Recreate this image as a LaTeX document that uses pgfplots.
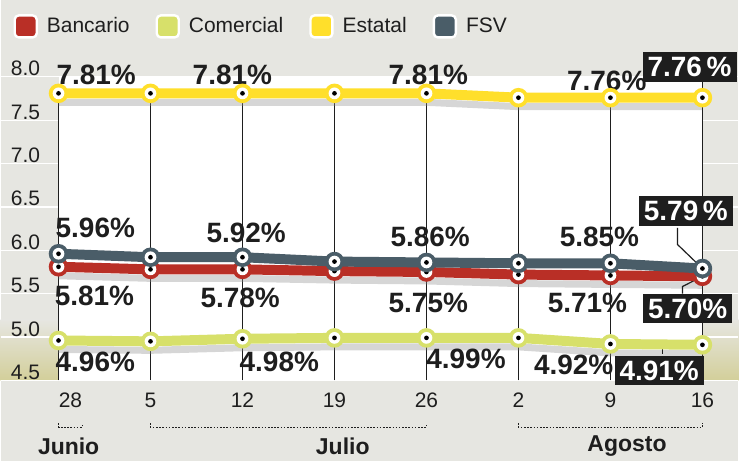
\documentclass[border=0pt]{standalone}
\usepackage{pgfplots}
\usepackage{pgfplotstable}
\pgfplotsset{compat=1.18}
\usepackage{fontspec}
\setmainfont{Liberation Sans}
\definecolor{bggray}{HTML}{E6E6E1}
\definecolor{khaki}{HTML}{D3CF9A}
\definecolor{estatal}{HTML}{FFDF2B}
\definecolor{comercial}{HTML}{D7E06A}
\definecolor{bancario}{HTML}{B92F26}
\definecolor{fsv}{HTML}{4A5D68}
\definecolor{ink}{HTML}{1E1E1E}
\tikzset{
  lab/.style={font=\fontsize{14}{16}\selectfont\bfseries, inner sep=0pt, text=ink},
  box/.style={fill=ink, text=white, font=\fontsize{14}{16}\selectfont\bfseries, inner xsep=2.5pt, inner ysep=2.5pt},
  month/.style={font=\fontsize{11.5}{13}\selectfont\bfseries, text=ink},
  brk/.style={ink, dash pattern=on 0.8pt off 0.8pt, line width=0.7pt},
}
\pgfdeclareplotmark{ring}{%
  \pgfpathcircle{\pgfpointorigin}{\pgfplotmarksize}\pgfusepathqfill
  \begin{pgfscope}%
  \pgfsetfillcolor{white}%
  \pgfpathcircle{\pgfpointorigin}{0.6\pgfplotmarksize}\pgfusepathqfill
  \pgfsetfillcolor{black}%
  \pgfpathcircle{\pgfpointorigin}{0.24\pgfplotmarksize}\pgfusepathqfill
  \end{pgfscope}}
\pgfplotstableread{
x est fsv ban com
0 7.81 5.96 5.81 4.96
1 7.81 5.92 5.78 4.95
2 7.81 5.92 5.78 4.98
3 7.81 5.87 5.76 4.99
4 7.81 5.86 5.75 4.99
5 7.76 5.85 5.72 4.99
6 7.76 5.85 5.71 4.92
7 7.76 5.79 5.70 4.91
}\data
\begin{document}
\begin{tikzpicture}
\begin{axis}[
  set layers=standard,
  scale only axis, width=369.5pt, height=231pt,
  xmin=-0.6295, xmax=7.391, ymin=3.5675, ymax=8.8864,
  clip=false,
  axis line style={draw=none}, tick style={draw=none},
  axis background/.style={fill=bggray},
  xtick={0,...,7}, xticklabels={\hspace*{12pt}28,5,12,19,26,2,9,16},
  xticklabel style={anchor=base, yshift=27pt, font=\fontsize{10.5}{12}\selectfont, text=ink},
  ytick={4.5,5,5.5,6,6.5,7,7.5,8},
  yticklabels={4.5,5.0,5.5,6.0,6.5,7.0,7.5,8.0},
  yticklabel style={anchor=base west, xshift=5pt, yshift=0.5pt, inner sep=0pt, font=\fontsize{10.5}{12}\selectfont, text=ink},
  legend columns=4,
  legend style={at={(rel axis cs:0.017,0.97)}, anchor=north west, draw=none, fill=none, inner sep=0pt,
    font=\fontsize{10.5}{12}\selectfont, text=ink,
    nodes={inner sep=0pt},
    /tikz/every even column/.append style={column sep=13pt},
    /tikz/every odd column/.append style={column sep=4.5pt}},
  legend image code/.code={\draw[#1, draw=white, line width=1.2pt, rounded corners=2pt, fill] (0pt,-5.5pt) rectangle (11pt,5.5pt);},
]
\addlegendimage{color=bancario}\addlegendentry{Bancario}
\addlegendimage{color=comercial}\addlegendentry{Comercial}
\addlegendimage{color=estatal}\addlegendentry{Estatal}
\addlegendimage{color=fsv}\addlegendentry{FSV}
% background columns
\begin{pgfonlayer}{axis grid}
\shade[top color=bggray, bottom color=khaki] (axis cs:-0.6295,5.2) rectangle (axis cs:0,4.5);
\shade[top color=bggray, bottom color=khaki] (axis cs:7,5.2) rectangle (axis cs:7.391,4.5);
\fill[white] (axis cs:0,4.5) rectangle (axis cs:7,8.0);
\pgfplotsinvokeforeach{4.5,5.0,5.5,6.0,6.5,7.0,7.5,8.0}{\draw[white, line width=0.6pt] (axis cs:-0.6295,#1) -- (axis cs:7.391,#1);}
\end{pgfonlayer}
\pgfplotsinvokeforeach{0,...,7}{\draw[ink, line width=0.7pt] (axis cs:#1,4.5) -- (axis cs:#1,7.78);}
% brackets
\draw[brk] (axis cs:0,4.005) -- (axis cs:0,3.959) -- (axis cs:0.26,3.959) -- (axis cs:0.26,4.005);
\draw[brk] (axis cs:1,4.005) -- (axis cs:1,3.959) -- (axis cs:4,3.959) -- (axis cs:4,4.005);
\draw[brk] (axis cs:5,4.005) -- (axis cs:5,3.959) -- (axis cs:7,3.959) -- (axis cs:7,4.005);
\node[month] at (axis cs:0.11,3.745) {Junio};
\node[month] at (axis cs:3.09,3.745) {Julio};
\node[month] at (axis cs:6.18,3.745) {Agosto};
% shadows
\addplot[forget plot, color=black!45, opacity=0.35, line width=3.5pt, yshift=-4.5pt] table[x=x,y=est]{\data};
\addplot[forget plot, color=black!45, opacity=0.35, line width=3.5pt, yshift=-4.5pt] table[x=x,y=com]{\data};
\addplot[forget plot, color=black!45, opacity=0.35, line width=3.5pt, yshift=-4.5pt] table[x=x,y=ban]{\data};
% connectors
\draw[ink, line width=0.6pt] (axis cs:7,7.76) -- (axis cs:7,7.95);
\draw[ink, line width=0.6pt] (axis cs:7,5.79) -- (axis cs:6.73,6.066) -- (axis cs:6.73,6.26);
\draw[ink, line width=0.6pt] (axis cs:7,5.70) -- (axis cs:6.783,5.582) -- (axis cs:6.783,5.50);
\draw[ink, line width=0.6pt] (axis cs:7,4.91) -- (axis cs:6.566,4.91) -- (axis cs:6.566,4.80);
% lines
\addplot[forget plot, color=comercial, line width=5pt, line join=round, mark=ring, mark size=4.9pt] table[x=x,y=com]{\data};
\addplot[forget plot, color=estatal, line width=5pt, line join=round, mark=ring, mark size=4.9pt] table[x=x,y=est]{\data};
\addplot[forget plot, color=bancario, line width=5pt, line join=round, mark=ring, mark size=4.9pt] table[x=x,y=ban]{\data};
\addplot[forget plot, color=fsv, line width=5pt, line join=round, mark=ring, mark size=4.9pt] table[x=x,y=fsv]{\data};
% labels Estatal
\node[lab] at (axis cs:0.41,8.023) {7.81\%};
\node[lab] at (axis cs:1.89,8.023) {7.81\%};
\node[lab] at (axis cs:4.02,8.023) {7.81\%};
\node[lab] at (axis cs:5.96,7.954) {7.76\%};
\node[box] at (axis cs:6.86,8.115) {7.76\,\%};
% FSV
\node[lab] at (axis cs:0.40,6.261) {5.96\%};
\node[lab] at (axis cs:2.04,6.204) {5.92\%};
\node[lab] at (axis cs:4.04,6.158) {5.86\%};
\node[lab] at (axis cs:5.88,6.158) {5.85\%};
\node[box] at (axis cs:6.82,6.457) {5.79\,\%};
% Bancario
\node[lab] at (axis cs:0.39,5.479) {5.81\%};
\node[lab] at (axis cs:1.975,5.456) {5.78\%};
\node[lab] at (axis cs:4.02,5.398) {5.75\%};
\node[lab] at (axis cs:5.75,5.398) {5.71\%};
\node[box] at (axis cs:6.84,5.329) {5.70\%};
% Comercial
\node[lab] at (axis cs:0.40,4.719) {4.96\%};
\node[lab] at (axis cs:2.40,4.719) {4.98\%};
\node[lab] at (axis cs:4.43,4.753) {4.99\%};
\node[lab] at (axis cs:5.60,4.673) {4.92\%};
\node[box] at (axis cs:6.53,4.615) {4.91\%};
\end{axis}
\end{tikzpicture}
\end{document}
